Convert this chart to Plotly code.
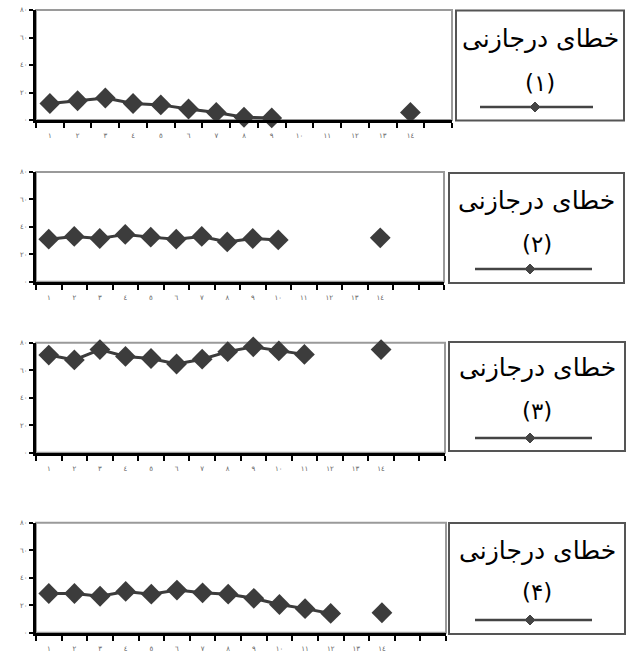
import plotly.graph_objects as go

# ---------------- data ----------------
x_labels = ['١', '٢', '٣', '٤', '٥', '٦', '٧', '٨', '٩', '١٠', '١١', '١٢', '١٣', '١٤']
x_pos = list(range(1, len(x_labels) + 1))

series1 = [12, 14, 16, 12, 11, 8, 5.5, 2, 1.5, None, None, None, None, 5.5]
series2 = [31, 33, 31.5, 34.5, 32.5, 31, 33, 29, 31.5, 30.5, None, None, None, 32]
series3 = [71, 67.5, 75, 70, 68.5, 64.5, 68, 73.5, 77, 74, 71.5, None, None, 75]
series4 = [28.5, 28.5, 26.5, 30, 28, 31, 29, 28, 25, 20.5, 17.5, 14, None, 14.5]
all_series = [series1, series2, series3, series4]

y_ticks = [0, 20, 40, 60, 80]
y_tick_labels = ['٠', '٢٠', '٤٠', '٦٠', '٨٠']

legend_title = 'خطای درجازنی'
legend_numbers = ['(۱)', '(۲)', '(۳)', '(۴)']

# ---------------- layout geometry (pixels) ----------------
W, H = 633, 654
# plot area: x0, x1, ytop, ybottom, number of category slots
plots = [
    (36, 452, 10, 120, 15),
    (36, 444, 172, 281.7, 16),
    (36, 445, 342.7, 452.7, 16),
    (36, 446, 522.7, 632.7, 16),
]
# legend boxes: x0, x1, ytop, ybottom
boxes = [
    (456, 624, 10.5, 120.5),
    (449, 624, 173, 283),
    (449, 625, 342, 451),
    (449, 625, 523, 634),
]
# legend contents: title y, number y, line y, line x0, x1, diamond x
legend_rows = [
    (39, 83, 107, 480, 593, 535),
    (200, 244, 269, 475, 592, 530),
    (367, 411, 438, 475, 592, 530),
    (550, 592, 620, 475, 592, 530),
]

def px(x):
    return x / W

def py(y):
    return 1 - y / H

MARK = '#3c3c3c'
fig = go.Figure()
shapes = []
annotations = []

for i, (series, (x0, x1, yt, yb, nslots)) in enumerate(zip(all_series, plots)):
    k = '' if i == 0 else str(i + 1)
    fig.add_trace(go.Scatter(
        x=x_pos, y=series, mode='lines+markers',
        xaxis='x' + k, yaxis='y' + k,
        line=dict(color=MARK, width=3),
        marker=dict(symbol='diamond', size=16, color=MARK),
        connectgaps=False, cliponaxis=False, showlegend=False,
        hoverinfo='x+y',
    ))
    # gray frame (top & right visible)
    shapes.append(dict(type='rect', xref='paper', yref='paper',
                       x0=px(x0), x1=px(x1), y0=py(yb), y1=py(yt),
                       line=dict(color='#9a9a9a', width=2), layer='below'))
    fig.layout['xaxis' + k] = dict(
        domain=[px(x0), px(x1)], anchor='y' + k,
        range=[0.5, nslots + 0.5],
        tickmode='array', tickvals=x_pos, ticktext=x_labels,
        ticks='outside', ticklen=7, tickcolor='rgba(0,0,0,0)',
        tickfont=dict(size=7, color='#666', family='DejaVu Sans'),
        minor=dict(tickmode='linear', tick0=0.5, dtick=1, ticks='outside',
                   ticklen=5, tickwidth=2, tickcolor='black'),
        showline=True, linecolor='black', linewidth=3,
        showgrid=False, zeroline=False, fixedrange=True, automargin=False,
    )
    fig.layout['yaxis' + k] = dict(
        domain=[py(yb), py(yt)], anchor='x' + k,
        range=[0, 80],
        tickmode='array', tickvals=y_ticks, ticktext=y_tick_labels,
        ticks='outside', ticklen=4, tickwidth=2, tickcolor='black',
        tickfont=dict(size=7, color='#666', family='DejaVu Sans'),
        showline=True, linecolor='black', linewidth=3,
        showgrid=False, zeroline=False, fixedrange=True, automargin=False,
    )

for i, ((bx0, bx1, byt, byb), (ty, ny, ly, lx0, lx1, dx)) in enumerate(zip(boxes, legend_rows)):
    shapes.append(dict(type='rect', xref='paper', yref='paper',
                       x0=px(bx0), x1=px(bx1), y0=py(byb), y1=py(byt),
                       line=dict(color='#555', width=2)))
    cx = (bx0 + bx1) / 2
    annotations.append(dict(xref='paper', yref='paper', x=px(cx), y=py(ty),
                            text=legend_title, showarrow=False,
                            font=dict(size=25, color='black', family='DejaVu Sans'),
                            xanchor='center', yanchor='middle'))
    annotations.append(dict(xref='paper', yref='paper', x=px(cx), y=py(ny),
                            text=legend_numbers[i], showarrow=False,
                            font=dict(size=23, color='black', family='DejaVu Sans'),
                            xanchor='center', yanchor='middle'))
    shapes.append(dict(type='line', xref='paper', yref='paper',
                       x0=px(lx0), x1=px(lx1), y0=py(ly), y1=py(ly),
                       line=dict(color='#444', width=2.5)))
    d = 5
    path = 'M {} {} L {} {} L {} {} L {} {} Z'.format(
        px(dx - d), py(ly), px(dx), py(ly - d), px(dx + d), py(ly), px(dx), py(ly + d))
    shapes.append(dict(type='path', xref='paper', yref='paper', path=path,
                       fillcolor='#444', line=dict(color='#444', width=1)))

fig.update_layout(
    width=W, height=H,
    margin=dict(l=0, r=0, t=0, b=0),
    paper_bgcolor='white', plot_bgcolor='white',
    shapes=shapes, annotations=annotations,
    showlegend=False,
)

fig.write_html('out.html', config={'displayModeBar': False},
               post_script="document.body.style.margin='0';document.body.style.overflow='hidden';")
